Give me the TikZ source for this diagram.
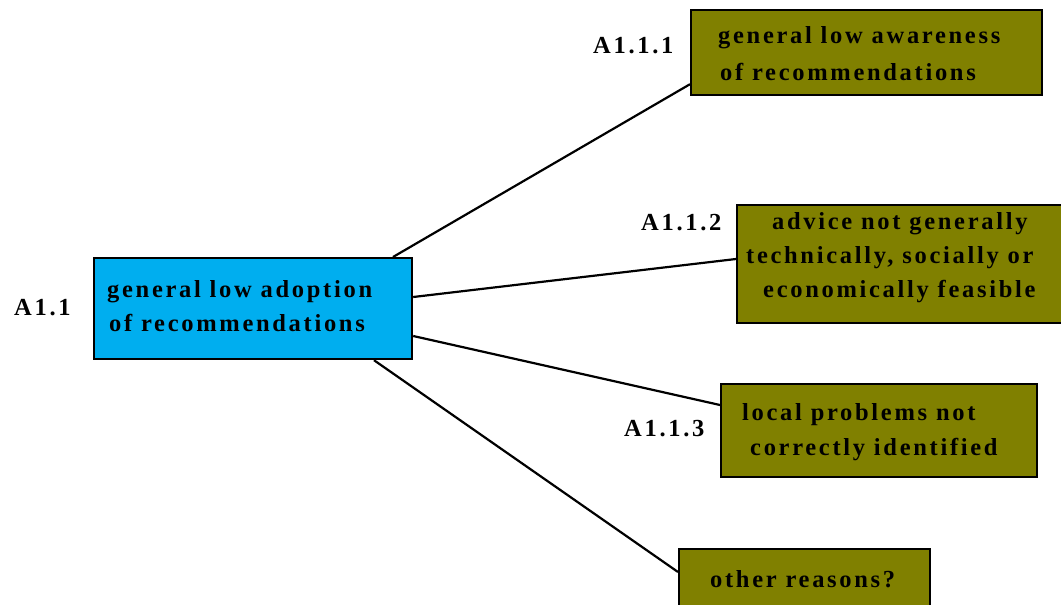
\documentclass[tikz,border=0pt]{standalone}
\usepackage{fontspec}
\setmainfont{Liberation Serif}[LetterSpace=11]
\usetikzlibrary{calc}
\definecolor{boxblue}{HTML}{00AEEF}
\definecolor{boxolive}{HTML}{808000}
\tikzset{
  box/.style={draw=black, line width=2.2pt, inner sep=0pt, anchor=north west},
  mainbox/.style={box, fill=boxblue},
  causebox/.style={box, fill=boxolive},
  txt/.style={anchor=base west, inner sep=0pt, font=\fontsize{24.5}{28}\selectfont\bfseries},
  link/.style={draw=black, line width=2.2pt},
}
\begin{document}
\begin{tikzpicture}[x=1pt,y=-1pt]
\useasboundingbox (0,0) rectangle (1061,605);
% boxes
\node[mainbox, minimum width=318pt, minimum height=101pt] (main) at (93,257) {};
\node[causebox, minimum width=351pt, minimum height=85pt] (c1) at (690,9) {};
\node[causebox, minimum width=340pt, minimum height=118pt] (c2) at (736,204) {};
\node[causebox, minimum width=316pt, minimum height=93pt] (c3) at (720,383) {};
\node[causebox, minimum width=251pt, minimum height=80pt] (c4) at (678,548) {};
% connectors
\draw[link] ($(main.north west)+(300,0)$) -- ($(c1.south west)+(0,-12)$);
\draw[link] ($(main.north east)+(0,40)$) -- ($(c2.north west)+(0,55)$);
\draw[link] ($(main.north east)+(0,79)$) -- ($(c3.north west)+(0,22)$);
\draw[link] ($(main.south west)+(281,0)$) -- ($(c4.north west)+(0,24)$);
% box texts
\node[txt] (t0a) at (107,297) {general low adoption};
\node[txt] (t0b) at (109,331) {of recommendations};
\node[txt] (t1a) at (718,43) {general low awareness};
\node[txt] (t1b) at (720,80) {of recommendations};
\node[txt] (t2a) at (772,229) {advice not generally};
\node[txt] (t2b) at (746,263) {technically, socially or};
\node[txt] (t2c) at (763,297) {economically feasible};
\node[txt] (t3a) at (742,420) {local problems not};
\node[txt] (t3b) at (750,455) {correctly identified};
\node[txt] (t4a) at (710,587) {other reasons?};
% codes
\node[txt] (l0) at (14,315) {A1.1};
\node[txt] (l1) at (593,53) {A1.1.1};
\node[txt] (l2) at (641,230) {A1.1.2};
\node[txt] (l3) at (624,436) {A1.1.3};
\end{tikzpicture}
\end{document}
